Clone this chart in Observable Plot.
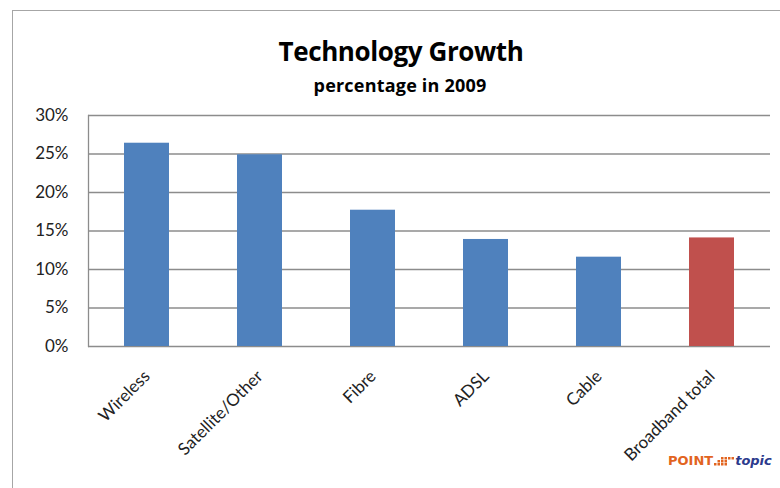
<!DOCTYPE html>
<html>
<head>
<meta charset="utf-8">
<script src="https://cdn.jsdelivr.net/npm/d3@7"></script>
<script src="https://cdn.jsdelivr.net/npm/@observablehq/plot@0.6"></script>
<style>
  html, body { margin: 0; padding: 0; background: #fff; width: 780px; height: 488px; overflow: hidden; }
  #frame { position: absolute; left: 12px; top: 10px; width: 820px; height: 520px; border: 1.5px solid #a6a6a6; box-sizing: border-box; }
  #title { position: absolute; left: 0; width: 802px; top: 33px; text-align: center; font-family: "Open Sans", Lato, sans-serif; font-weight: bold; font-size: 26px; letter-spacing: -0.4px; color: #000; }
  #subtitle { position: absolute; left: 0; width: 800px; top: 73px; text-align: center; font-family: "Open Sans", Lato, sans-serif; font-weight: bold; font-size: 18px; letter-spacing: 0.2px; color: #000; }
  #chart { position: absolute; left: 0; top: 100px; }
  #logo { position: absolute; left: 668px; top: 453px; font-family: "DejaVu Sans", sans-serif; font-weight: bold; font-size: 13px; white-space: nowrap; }
  #logo .p { color: #e2641f; }
  #logo .t { color: #2b3a8c; font-style: italic; }
</style>
</head>
<body>
<div id="frame"></div>
<div id="title">Technology Growth</div>
<div id="subtitle">percentage in 2009</div>
<div id="chart"></div>
<div id="logo"><span class="p">POINT</span><svg width="22" height="10" style="vertical-align:-1px"><g fill="#e2641f"><rect x="1" y="7" width="2.5" height="2.5"/><rect x="4.5" y="4" width="2.5" height="2.5"/><rect x="4.5" y="7" width="2.5" height="2.5"/><rect x="8" y="1" width="2.5" height="2.5"/><rect x="8" y="4" width="2.5" height="2.5"/><rect x="8" y="7" width="2.5" height="2.5"/><rect x="11.5" y="1" width="2.5" height="2.5"/><rect x="11.5" y="4" width="2.5" height="2.5"/><rect x="11.5" y="7" width="2.5" height="2.5"/><rect x="15" y="1" width="2.5" height="2.5"/><rect x="18.5" y="1" width="2.5" height="2.5"/></g></svg><span class="t">topic</span></div>
<script>
const categories = ["Wireless", "Satellite/Other", "Fibre", "ADSL", "Cable", "Broadband total"];
const values = [0.264, 0.249, 0.177, 0.139, 0.116, 0.141];
const barColors = ["#4f81bd", "#4f81bd", "#4f81bd", "#4f81bd", "#4f81bd", "#c0504d"];
const yTicks = [0, 0.05, 0.10, 0.15, 0.20, 0.25, 0.30];

const data = categories.map((c, i) => ({category: c, value: values[i], color: barColors[i]}));

const chart = Plot.plot({
  width: 780,
  height: 388,
  marginTop: 15,
  marginLeft: 88,
  marginRight: 10,
  marginBottom: 142,
  style: {fontFamily: "Lato, 'Open Sans', sans-serif", fontSize: "17px", color: "#222", background: "transparent"},
  x: {domain: categories, paddingInner: 0.6, paddingOuter: 0.3},
  y: {domain: [0, 0.30]},
  marks: [
    Plot.ruleY(yTicks, {stroke: "#8c8c8c", strokeWidth: 1.3}),
    Plot.frame({anchor: "left", stroke: "#8c8c8c", strokeWidth: 1.3}),
    Plot.barY(data, {x: "category", y: "value", fill: "color"}),
    Plot.axisY(yTicks, {tickSize: 0, tickPadding: 20, tickFormat: d3.format(".0%"), label: null, fontSize: 17}),
    Plot.axisX({tickSize: 0, tickPadding: 27, tickRotate: -45, label: null, fontSize: 17})
  ]
});
document.getElementById("chart").appendChild(chart);
</script>
</body>
</html>
